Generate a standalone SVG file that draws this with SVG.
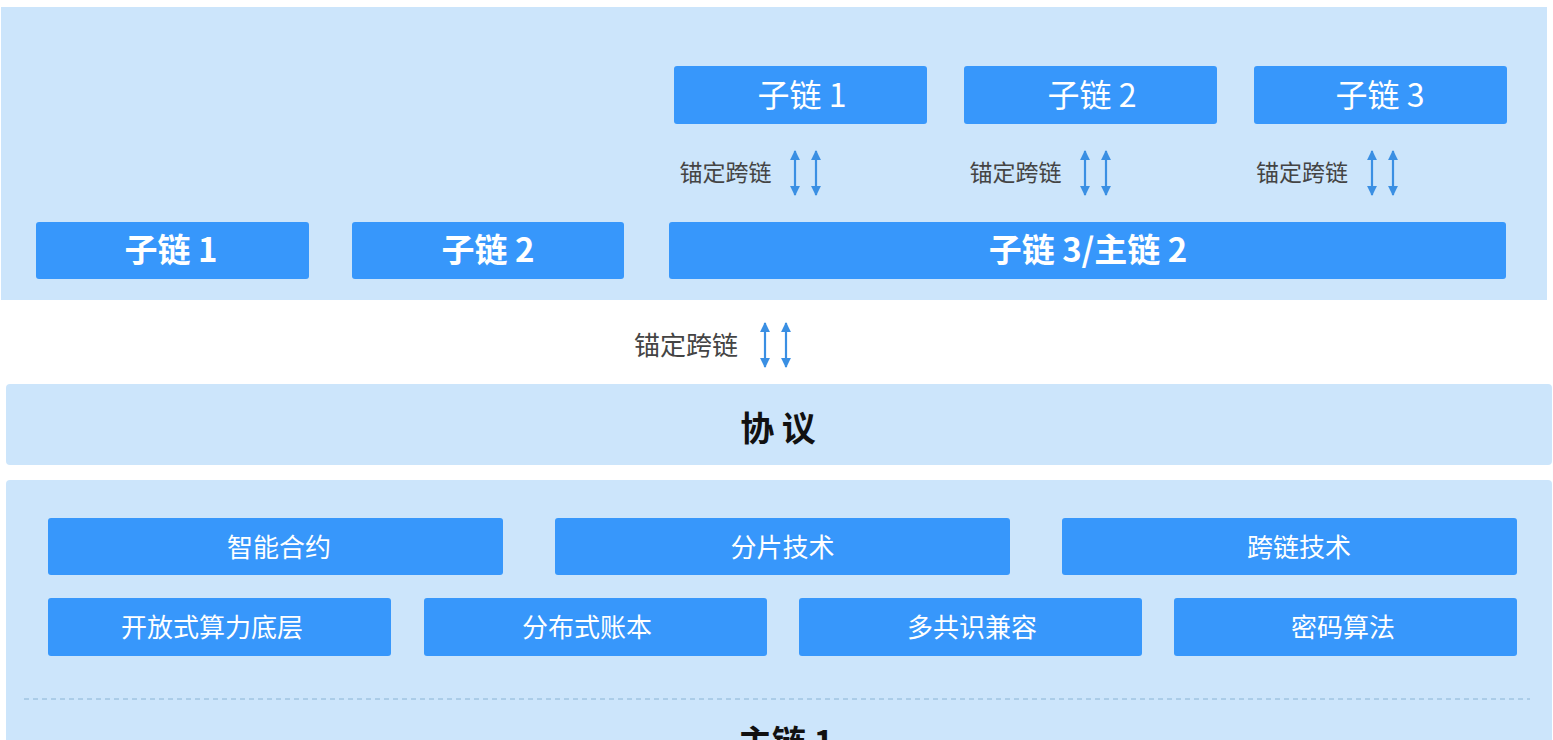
<svg xmlns="http://www.w3.org/2000/svg" width="1553" height="740" viewBox="0 0 1553 740">
<style>
.panel{fill:#cce5fb}
.box{fill:#3797fb}
.t{font-family:"Noto Sans CJK SC","Noto Sans",sans-serif;text-anchor:middle;dominant-baseline:central}
.w{fill:#ffffff}
.top{font-size:32px;font-weight:400}
.mid{font-size:33px;font-weight:700}
.sm{font-size:26px;font-weight:400}
.lab{fill:#444444;font-size:23px}
.labm{fill:#444444;font-size:26px}
.dark{fill:#111111;font-size:34px;font-weight:700}
.arr{stroke:#3a8fe3;stroke-width:2.2;fill:none;marker-start:url(#ah);marker-end:url(#ah)}
</style>
<defs>
<marker id="ah" viewBox="0 0 10 10" refX="9" refY="5" markerWidth="4.5" markerHeight="5" orient="auto-start-reverse" markerUnits="strokeWidth">
<path d="M0,0 L10,5 L0,10 z" fill="#3a8fe3"/>
</marker>
</defs>
<rect width="1553" height="740" fill="#ffffff"/>
<g id="top-panel">
<rect class="panel" x="1" y="7" width="1546" height="293"/>
</g>
<g id="protocol">
<rect class="panel" x="6" y="384" width="1546" height="81" rx="4"/>
<text class="t dark" x="778" y="426">协 议</text>
</g>
<g id="main-panel">
<rect class="panel" x="6" y="480" width="1546" height="270" rx="4"/>
<line x1="24" y1="699" x2="1530" y2="699" stroke="#8ab4d4" stroke-width="1" stroke-dasharray="5,4"/>
<text class="t dark" x="786" y="740">主链 1</text>
</g>
<g id="sub1-top"><rect class="box" x="674" y="66" width="253" height="58" rx="3"/><text class="t w top" x="802" y="93">子链 1</text></g>
<g id="sub2-top"><rect class="box" x="964" y="66" width="253" height="58" rx="3"/><text class="t w top" x="1092" y="93">子链 2</text></g>
<g id="sub3-top"><rect class="box" x="1254" y="66" width="253" height="58" rx="3"/><text class="t w top" x="1380" y="93">子链 3</text></g>
<g id="sub1"><rect class="box" x="36" y="222" width="273" height="57" rx="3"/><text class="t w mid" x="171" y="248">子链 1</text></g>
<g id="sub2"><rect class="box" x="352" y="222" width="272" height="57" rx="3"/><text class="t w mid" x="488" y="248">子链 2</text></g>
<g id="sub3-main2"><rect class="box" x="669" y="222" width="837" height="57" rx="3"/><text class="t w mid" x="1088" y="248">子链 3/主链 2</text></g>
<g id="n-znhy"><rect class="box" x="48" y="518" width="455" height="57" rx="3"/><text class="t w sm" x="279" y="545">智能合约</text></g>
<g id="n-fpjs"><rect class="box" x="555" y="518" width="455" height="57" rx="3"/><text class="t w sm" x="782.5" y="545">分片技术</text></g>
<g id="n-kljs"><rect class="box" x="1062" y="518" width="455" height="57" rx="3"/><text class="t w sm" x="1299" y="545">跨链技术</text></g>
<g id="n-kfs"><rect class="box" x="48" y="598" width="343" height="58" rx="3"/><text class="t w sm" x="212" y="625">开放式算力底层</text></g>
<g id="n-fbs"><rect class="box" x="424" y="598" width="343" height="58" rx="3"/><text class="t w sm" x="587" y="625">分布式账本</text></g>
<g id="n-dgs"><rect class="box" x="799" y="598" width="343" height="58" rx="3"/><text class="t w sm" x="972" y="625">多共识兼容</text></g>
<g id="n-mm"><rect class="box" x="1174" y="598" width="343" height="58" rx="3"/><text class="t w sm" x="1343" y="625">密码算法</text></g>
<g id="connectors">
<text class="t lab" x="725.5" y="171">锚定跨链</text>
<line class="arr" x1="795" y1="151" x2="795" y2="195"/>
<line class="arr" x1="816" y1="151" x2="816" y2="195"/>
<text class="t lab" x="1015.5" y="171">锚定跨链</text>
<line class="arr" x1="1085" y1="151" x2="1085" y2="195"/>
<line class="arr" x1="1106" y1="151" x2="1106" y2="195"/>
<text class="t lab" x="1302" y="171">锚定跨链</text>
<line class="arr" x1="1372" y1="151" x2="1372" y2="195"/>
<line class="arr" x1="1393" y1="151" x2="1393" y2="195"/>
<text class="t labm" x="686" y="343">锚定跨链</text>
<line class="arr" x1="765" y1="323" x2="765" y2="367"/>
<line class="arr" x1="786" y1="323" x2="786" y2="367"/>
</g>
</svg>
